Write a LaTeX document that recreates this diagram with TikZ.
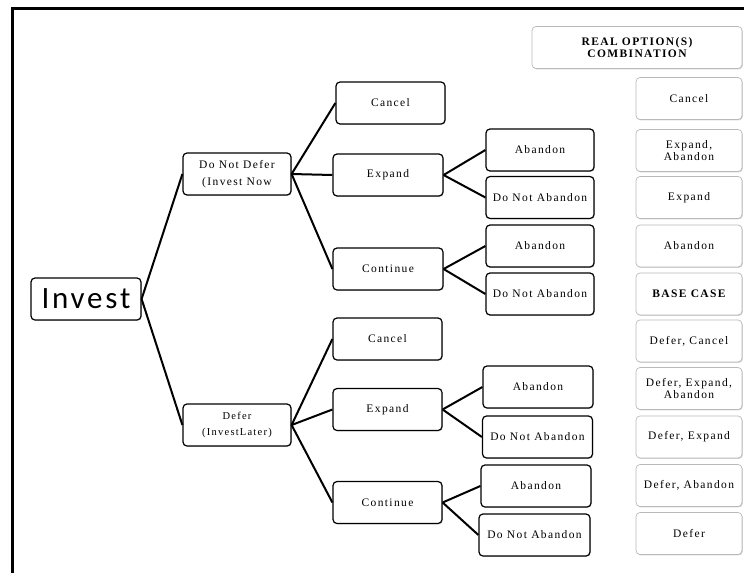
\documentclass[tikz,border=0pt]{standalone}
\usepackage{fontspec}
\setmainfont[LetterSpace=12]{Liberation Serif}
\newfontfamily\investfont[LetterSpace=9]{Carlito}
\usetikzlibrary{shadows}

\begin{document}
\begin{tikzpicture}[x=1pt,y=-1pt,
	boite/.style={draw, fill=white, line width=1.2pt, rounded corners=4pt, minimum width=108pt, minimum height=42pt, inner sep=1pt, align=center, font=\fontsize{11.5}{17}\selectfont, drop shadow={shadow xshift=0.8pt, shadow yshift=-0.9pt, opacity=0.35}},
	choix/.style={boite, draw=gray!55, line width=0.7pt, minimum width=106pt, font=\fontsize{11.5}{12.5}\selectfont},
	branche/.style={line width=2pt}]
	\useasboundingbox (0,0) rectangle (744,573);
	% le cadre
	\draw[line width=3pt] (12,573) -- (12,8) -- (744,8);
	% la racine
	\node[boite, minimum width=110pt, font=\investfont\fontsize{31}{31}\selectfont] (invest) at (86,299) {Invest};
	\node[boite] (nodefer) at (237,174) {Do Not Defer\\(Invest Now};
	\node[boite, font=\fontsize{10.5}{16}\selectfont] (defer) at (237,425) {Defer\\(Invest\hspace{1pt}Later)};
	% les branches du haut
	\node[boite, minimum width=109pt] (cancelA) at (390.5,103) {Cancel};
	\node[boite, minimum width=110pt] (expandA) at (388,175) {Expand};
	\node[boite, minimum width=110pt] (contA) at (388,269) {Continue};
	\node[boite] (abA) at (540,150) {Abandon};
	\node[boite] (keepA) at (540,197.5) {Do Not Abandon};
	\node[boite] (abB) at (540,246) {Abandon};
	\node[boite] (keepB) at (540,294) {Do Not Abandon};
	% les branches du bas
	\node[boite, minimum width=109pt] (cancelB) at (387.5,339) {Cancel};
	\node[boite, minimum width=109pt] (expandB) at (387.5,409.5) {Expand};
	\node[boite, minimum width=109pt] (contB) at (387.5,502.5) {Continue};
	\node[boite, minimum width=110pt] (abC) at (538,387) {Abandon};
	\node[boite, minimum width=110pt] (keepC) at (537.5,437) {Do Not Abandon};
	\node[boite, minimum width=110pt] (abD) at (536,486) {Abandon};
	\node[boite, minimum width=111pt] (keepD) at (534.5,535) {Do Not Abandon};
	% les combinaisons
	\node[choix, minimum width=210pt, font=\bfseries\fontsize{11.5}{12}\selectfont] (titre) at (637,47.5) {REAL OPTION(S)\\COMBINATION};
	\node[choix] (c1) at (689,98.5) {Cancel};
	\node[choix] (c2) at (689,150.5) {Expand,\\Abandon};
	\node[choix] (c3) at (689,197.5) {Expand};
	\node[choix] (c4) at (689,246) {Abandon};
	\node[choix, font=\bfseries\fontsize{11.5}{12}\selectfont] (c5) at (689,294) {BASE CASE};
	\node[choix] (c6) at (689,341) {Defer, Cancel};
	\node[choix] (c7) at (689,388.5) {Defer, Expand,\\Abandon};
	\node[choix] (c8) at (689,437) {Defer, Expand};
	\node[choix] (c9) at (689,485.5) {Defer, Abandon};
	\node[choix] (c10) at (689,533.5) {Defer};
	% les liens
	\draw[branche] (invest.east) -- (nodefer.west);
	\draw[branche] (invest.east) -- (defer.west);
	\draw[branche] (nodefer.east) -- (cancelA.west);
	\draw[branche] (nodefer.east) -- (expandA.west);
	\draw[branche] (nodefer.east) -- (contA.west);
	\draw[branche] (expandA.east) -- (abA.west);
	\draw[branche] (expandA.east) -- (keepA.west);
	\draw[branche] (contA.east) -- (abB.west);
	\draw[branche] (contA.east) -- (keepB.west);
	\draw[branche] (defer.east) -- (cancelB.west);
	\draw[branche] (defer.east) -- (expandB.west);
	\draw[branche] (defer.east) -- (contB.west);
	\draw[branche] (expandB.east) -- (abC.west);
	\draw[branche] (expandB.east) -- (keepC.west);
	\draw[branche] (contB.east) -- (abD.west);
	\draw[branche] (contB.east) -- (keepD.west);
\end{tikzpicture}
\end{document}
